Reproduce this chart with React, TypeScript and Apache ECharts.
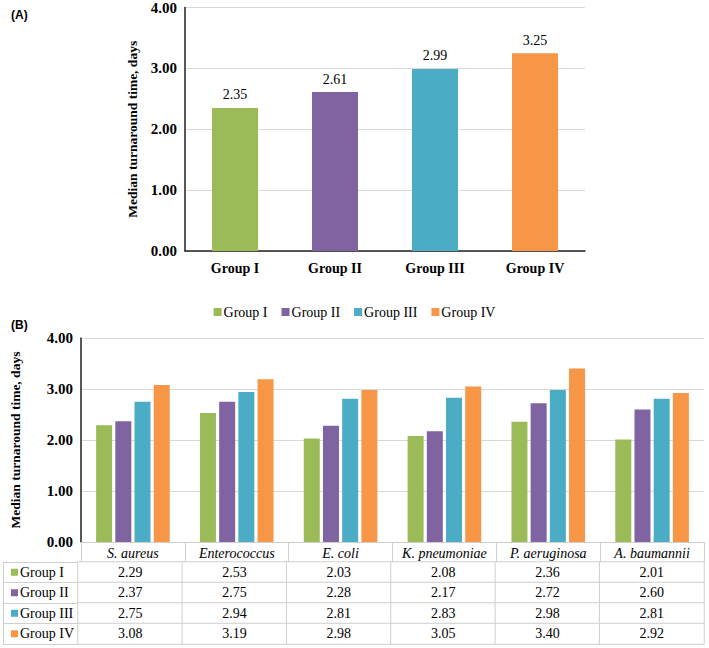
import React, { useEffect, useRef } from "react";
import * as echarts from "echarts";

const groups = ["Group I", "Group II", "Group III", "Group IV"];
const groupColors = ["#9BBB59", "#8064A2", "#4BACC6", "#F79646"];
const overallMedian = [2.35, 2.61, 2.99, 3.25];
const organisms = ["S. aureus", "Enterococcus", "E. coli", "K. pneumoniae", "P. aeruginosa", "A. baumannii"];
const groupI = [2.29, 2.53, 2.03, 2.08, 2.36, 2.01];
const groupII = [2.37, 2.75, 2.28, 2.17, 2.72, 2.6];
const groupIII = [2.75, 2.94, 2.81, 2.83, 2.98, 2.81];
const groupIV = [3.08, 3.19, 2.98, 3.05, 3.4, 2.92];
const yMin = 0;
const yMax = 4;
const yStep = 1;
const yAxisTitle = "Median turnaround time, days";

const SERIF = "'Liberation Serif', 'Times New Roman', serif";
const SANS = "'Liberation Sans', Arial, sans-serif";
const GRID_GRAY = "#d9d9d9";
const TABLE_GRAY = "#cfcfcf";

export default function App() {
  const ref = useRef<HTMLDivElement>(null);

  useEffect(() => {
    document.body.style.margin = "0";
    if (!ref.current) return;
    const chart = echarts.init(ref.current, null, { renderer: "svg" });

    const bySeries = [groupI, groupII, groupIII, groupIV];

    const tableData: number[][] = [];
    bySeries.forEach((arr, gi) => {
      arr.forEach((v, oi) => tableData.push([oi, gi, v]));
    });

    const rich: Record<string, any> = {
      t: { fontFamily: SERIF, fontSize: 14, color: "#000", padding: [0, 0, 0, 2] },
    };
    groupColors.forEach((c, i) => {
      rich["s" + i] = { width: 7, height: 7, backgroundColor: c };
    });

    const valueAxisCommon = {
      type: "value",
      min: yMin,
      max: yMax,
      interval: yStep,
      axisLine: { show: true, lineStyle: { color: "#222", width: 1.5 } },
      axisTick: { show: false },
      splitLine: { show: true, lineStyle: { color: GRID_GRAY, width: 1 } },
      axisLabel: {
        fontFamily: SERIF,
        fontWeight: "bold",
        fontSize: 15,
        color: "#000",
        margin: 8,
        formatter: (v: number) => v.toFixed(2),
      },
      name: yAxisTitle,
      nameLocation: "middle",
      nameRotate: 90,
      nameTextStyle: { fontFamily: SERIF, fontWeight: "bold", fontSize: 13.5, color: "#000" },
    };

    const option: any = {
      animation: false,
      backgroundColor: "#fff",
      title: [
        { text: "(A)", left: 6, top: 4, textStyle: { fontFamily: SANS, fontWeight: "bold", fontSize: 12, color: "#000" } },
        { text: "(B)", left: 6, top: 314, textStyle: { fontFamily: SANS, fontWeight: "bold", fontSize: 12, color: "#000" } },
      ],
      legend: {
        data: groups,
        top: 300,
        left: "center",
        icon: "rect",
        itemWidth: 8,
        itemHeight: 8,
        itemGap: 14,
        textStyle: { fontFamily: SERIF, fontSize: 14, color: "#000", padding: [0, 0, 0, -3] },
      },
      grid: [
        { left: 185, top: 6.5, width: 400, height: 244.5 },
        { left: 78, top: 338, width: 626, height: 204 },
        { left: 78, top: 562, width: 626, height: 82 },
      ],
      xAxis: [
        {
          type: "category",
          gridIndex: 0,
          data: groups,
          axisLine: { show: true, lineStyle: { color: "#222", width: 1.5 } },
          axisTick: { show: false },
          axisLabel: { fontFamily: SERIF, fontWeight: "bold", fontSize: 14, color: "#000", margin: 10 },
        },
        {
          type: "category",
          gridIndex: 1,
          data: organisms,
          axisLine: { show: true, lineStyle: { color: TABLE_GRAY, width: 1 } },
          axisTick: { show: true, interval: 0, length: 20, lineStyle: { color: TABLE_GRAY, width: 1 } },
          axisLabel: { interval: 0, fontFamily: SERIF, fontStyle: "italic", fontSize: 14, color: "#000", margin: 4 },
        },
        {
          type: "category",
          gridIndex: 2,
          data: organisms,
          show: false,
        },
      ],
      yAxis: [
        { ...valueAxisCommon, gridIndex: 0, nameGap: 41 },
        { ...valueAxisCommon, gridIndex: 1, nameGap: 59 },
        {
          type: "category",
          gridIndex: 2,
          data: groups,
          inverse: true,
          axisLine: { show: true, lineStyle: { color: TABLE_GRAY, width: 1 } },
          axisTick: { show: true, interval: 0, length: 75, lineStyle: { color: TABLE_GRAY, width: 1 } },
          axisLabel: {
            interval: 0,
            align: "left",
            margin: 67,
            formatter: (v: string, i: number) => `{s${i}|}{t|${v}}`,
            rich,
          },
        },
        {
          type: "category",
          gridIndex: 2,
          data: groups,
          inverse: true,
          position: "left",
          offset: 75,
          axisLine: { show: true, lineStyle: { color: TABLE_GRAY, width: 1 } },
          axisTick: { show: false },
          axisLabel: { show: false },
        },
      ],
      visualMap: {
        show: false,
        seriesIndex: 5,
        dimension: 2,
        min: 0,
        max: 10,
        inRange: { color: ["#ffffff", "#ffffff"] },
      },
      series: [
        {
          type: "bar",
          name: "Overall",
          xAxisIndex: 0,
          yAxisIndex: 0,
          barWidth: 46,
          data: overallMedian.map((v, i) => ({ value: v, itemStyle: { color: groupColors[i] } })),
          label: {
            show: true,
            position: "top",
            distance: 6,
            fontFamily: SERIF,
            fontSize: 14,
            color: "#000",
            formatter: (p: any) => Number(p.value).toFixed(2),
          },
        },
        ...bySeries.map((arr, i) => ({
          type: "bar",
          name: groups[i],
          xAxisIndex: 1,
          yAxisIndex: 1,
          barWidth: 16,
          barGap: "20%",
          itemStyle: { color: groupColors[i] },
          data: arr,
        })),
        {
          type: "heatmap",
          name: "table",
          xAxisIndex: 2,
          yAxisIndex: 2,
          data: tableData,
          itemStyle: { color: "#fff", borderColor: TABLE_GRAY, borderWidth: 1 },
          label: {
            show: true,
            fontFamily: SERIF,
            fontSize: 14,
            color: "#000",
            formatter: (p: any) => Number(p.value[2]).toFixed(2),
          },
          emphasis: { disabled: true },
        },
      ],
    };

    chart.setOption(option);
    return () => chart.dispose();
  }, []);

  return <div ref={ref} style={{ width: 709, height: 648 }} />;
}
